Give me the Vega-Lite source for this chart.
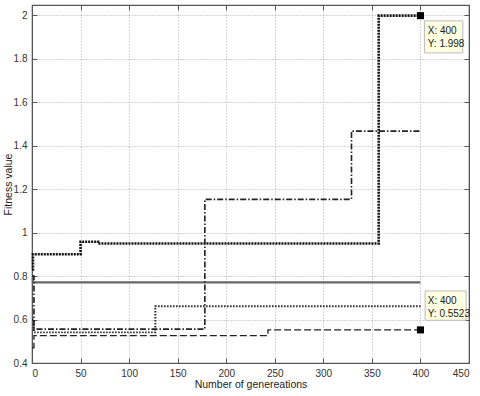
{
  "$schema": "https://vega.github.io/schema/vega-lite/v6.json",
  "width": 437,
  "height": 358,
  "autosize": "none",
  "padding": {"left": 32, "top": 5, "right": 11, "bottom": 33},
  "background": "white",
  "config": {
    "font": "Liberation Sans",
    "view": {"stroke": "#555", "strokeWidth": 1.2},
    "axis": {
      "labelFont": "Liberation Sans",
      "titleFont": "Liberation Sans",
      "labelFontSize": 10,
      "titleFontSize": 10.5,
      "titleFontWeight": "normal",
      "labelColor": "#333",
      "titleColor": "#222",
      "domainColor": "#555",
      "tickColor": "#555",
      "gridColor": "#999",
      "gridDash": [1, 2],
      "gridOpacity": 0.8
    }
  },
  "datasets": {
    "runs": [
      {"series": "A", "gen": 0, "fitness": 0.83},
      {"series": "A", "gen": 1, "fitness": 0.9},
      {"series": "A", "gen": 50, "fitness": 0.958},
      {"series": "A", "gen": 68, "fitness": 0.95},
      {"series": "A", "gen": 357, "fitness": 1.998},
      {"series": "A", "gen": 400, "fitness": 1.998},
      {"series": "B", "gen": 0, "fitness": 0.8},
      {"series": "B", "gen": 1, "fitness": 0.771},
      {"series": "B", "gen": 400, "fitness": 0.771},
      {"series": "C", "gen": 0, "fitness": 0.6},
      {"series": "C", "gen": 2, "fitness": 0.541},
      {"series": "C", "gen": 127, "fitness": 0.661},
      {"series": "C", "gen": 400, "fitness": 0.661},
      {"series": "D", "gen": 0, "fitness": 0.8},
      {"series": "D", "gen": 2, "fitness": 0.556},
      {"series": "D", "gen": 178, "fitness": 1.153},
      {"series": "D", "gen": 329, "fitness": 1.467},
      {"series": "D", "gen": 400, "fitness": 1.467},
      {"series": "E", "gen": 0, "fitness": 0.47},
      {"series": "E", "gen": 2, "fitness": 0.526},
      {"series": "E", "gen": 243, "fitness": 0.5523},
      {"series": "E", "gen": 400, "fitness": 0.5523}
    ],
    "tips": [
      {"gen": 400, "fitness": 1.998},
      {"gen": 400, "fitness": 0.5523}
    ],
    "one": [{}]
  },
  "layer": [
    {
      "data": {"name": "runs"},
      "mark": {"type": "line", "interpolate": "step-after"},
      "encoding": {
        "x": {
          "field": "gen", "type": "quantitative",
          "scale": {"domain": [0, 450], "nice": false, "zero": false},
          "axis": {
            "orient": "bottom",
            "values": [0, 50, 100, 150, 200, 250, 300, 350, 400, 450],
            "title": "Number of genereations",
            "grid": true,
            "tickSize": -5,
            "labelPadding": 10,
            "titlePadding": 1
          }
        },
        "y": {
          "field": "fitness", "type": "quantitative",
          "scale": {"domain": [0.4, 2.047], "nice": false, "zero": false},
          "axis": {
            "orient": "left",
            "values": [0.4, 0.6, 0.8, 1, 1.2, 1.4, 1.6, 1.8, 2],
            "format": "~g",
            "title": "Fitness value",
            "grid": true,
            "tickSize": -5,
            "labelPadding": 10,
            "titlePadding": 0
          }
        },
        "detail": {"field": "series"},
        "color": {
          "field": "series", "type": "nominal",
          "scale": {"domain": ["A", "B", "C", "D", "E"], "range": ["#111", "#666", "#222", "#222", "#222"]},
          "legend": null
        },
        "strokeDash": {
          "field": "series", "type": "nominal",
          "scale": {"domain": ["A", "B", "C", "D", "E"], "range": [[2, 1], [1, 0], [1.5, 1.5], [6, 2, 1.5, 2], [7, 3]]},
          "legend": null
        },
        "strokeWidth": {
          "field": "series", "type": "nominal",
          "scale": {"domain": ["A", "B", "C", "D", "E"], "range": [2.6, 1.3, 1.5, 1, 1]},
          "legend": null
        }
      }
    },
    {
      "data": {"name": "tips"},
      "mark": {"type": "point", "shape": "square", "filled": true, "color": "black", "opacity": 1, "size": 50},
      "encoding": {
        "x": {
          "field": "gen", "type": "quantitative",
          "axis": {"orient": "top", "labels": false, "title": null, "grid": false, "tickSize": -5,
                   "values": [0, 50, 100, 150, 200, 250, 300, 350, 400, 450]}
        },
        "y": {
          "field": "fitness", "type": "quantitative",
          "axis": {"orient": "right", "labels": false, "title": null, "grid": false, "tickSize": -5,
                   "values": [0.4, 0.6, 0.8, 1, 1.2, 1.4, 1.6, 1.8, 2]}
        }
      }
    },
    {
      "data": {"name": "one"},
      "mark": {"type": "rect", "fill": "#ffffe1", "stroke": "#bbb", "strokeWidth": 1},
      "encoding": {
        "x": {"datum": 404.1, "type": "quantitative", "axis": null},
        "x2": {"datum": 443.6},
        "y": {"datum": 1.974, "type": "quantitative", "axis": null},
        "y2": {"datum": 1.8265}
      }
    },
    {
      "data": {"name": "one"},
      "mark": {"type": "rect", "fill": "#ffffe1", "stroke": "#bbb", "strokeWidth": 1},
      "encoding": {
        "x": {"datum": 404.8, "type": "quantitative", "axis": null},
        "x2": {"datum": 447},
        "y": {"datum": 0.7313, "type": "quantitative", "axis": null},
        "y2": {"datum": 0.5965}
      }
    },
    {
      "data": {"name": "one"},
      "mark": {"type": "text", "align": "left", "baseline": "middle", "fontSize": 10, "color": "#222", "font": "Liberation Sans"},
      "encoding": {
        "x": {"datum": 407.5, "type": "quantitative", "axis": null},
        "y": {"datum": 1.926, "type": "quantitative", "axis": null},
        "text": {"value": "X: 400"}
      }
    },
    {
      "data": {"name": "one"},
      "mark": {"type": "text", "align": "left", "baseline": "middle", "fontSize": 10, "color": "#222", "font": "Liberation Sans"},
      "encoding": {
        "x": {"datum": 407.5, "type": "quantitative", "axis": null},
        "y": {"datum": 1.868, "type": "quantitative", "axis": null},
        "text": {"value": "Y: 1.998"}
      }
    },
    {
      "data": {"name": "one"},
      "mark": {"type": "text", "align": "left", "baseline": "middle", "fontSize": 10, "color": "#222", "font": "Liberation Sans"},
      "encoding": {
        "x": {"datum": 407.5, "type": "quantitative", "axis": null},
        "y": {"datum": 0.684, "type": "quantitative", "axis": null},
        "text": {"value": "X: 400"}
      }
    },
    {
      "data": {"name": "one"},
      "mark": {"type": "text", "align": "left", "baseline": "middle", "fontSize": 10, "color": "#222", "font": "Liberation Sans"},
      "encoding": {
        "x": {"datum": 407.5, "type": "quantitative", "axis": null},
        "y": {"datum": 0.624, "type": "quantitative", "axis": null},
        "text": {"value": "Y: 0.5523"}
      }
    }
  ],
  "resolve": {"axis": {"x": "independent", "y": "independent"}}
}
